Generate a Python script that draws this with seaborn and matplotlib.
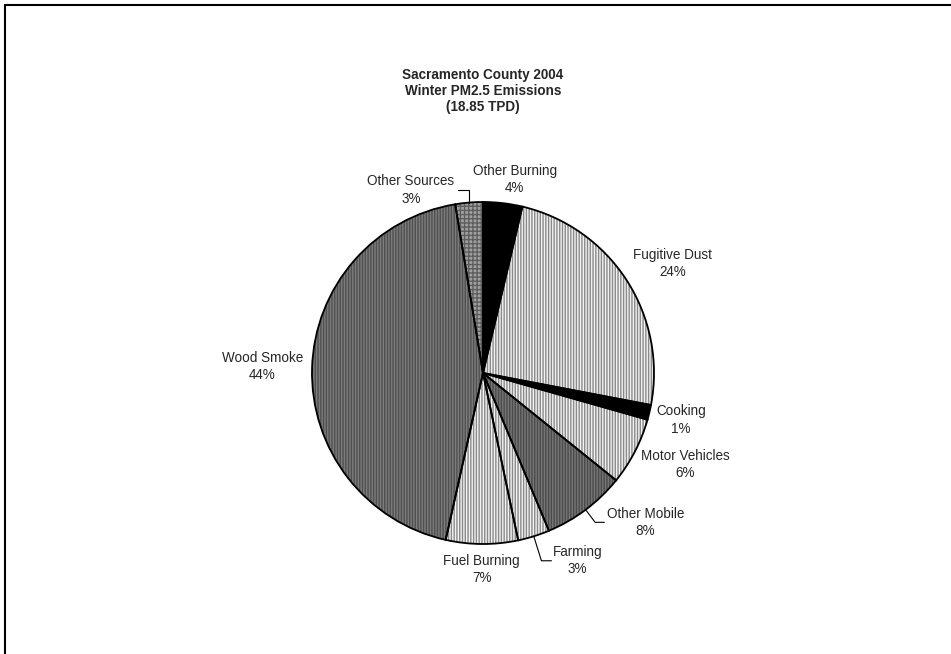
import numpy as np
import matplotlib
matplotlib.use('Agg')
import matplotlib.pyplot as plt
from matplotlib.lines import Line2D
import seaborn as sns

# Sacramento County 2004 winter PM2.5 emissions, share of total (%)
sources = ['Other Burning', 'Fugitive Dust', 'Cooking', 'Motor Vehicles', 'Other Mobile',
           'Farming', 'Fuel Burning', 'Wood Smoke', 'Other Sources']
shares = [3.7, 24.3, 1.4, 6.4, 7.9, 3.0, 6.8, 43.9, 2.6]
title = 'Sacramento County 2004\nWinter PM2.5 Emissions\n(18.85 TPD)'

# look of each wedge: fill, hatch, hatch colour
fills = ['black', '#f2f2f2', 'black', '#f2f2f2', '#767676', '#f2f2f2', '#f2f2f2', '#7c7c7c', '#a0a0a0']
hatches = ['', '||||||', '', '||||||', '||||||', '||||||', '||||||', '||||||', '++++']
hatch_cols = ['black', '#8a8a8a', 'black', '#8a8a8a', '#4a4a4a', '#8a8a8a', '#8a8a8a', '#505050', '#5e5e5e']

# label placement: distance (in radii) and angular nudge (deg) from the wedge middle
label_dist = [1.145, 1.28, 1.19, 1.30, 1.29, 1.23, 1.15, 1.29, 1.15]
label_nudge = [2.7, 3, 0, -3, -10.5, -9.5, 0, 0, -16.8]
leader = ['Other Mobile', 'Farming', 'Other Sources']

sns.set_theme(style='white')
plt.rcParams['font.family'] = ['Liberation Sans', 'DejaVu Sans']
plt.rcParams['hatch.linewidth'] = 1.0

W, H = 951, 654
fig = plt.figure(figsize=(W / 100, H / 100), dpi=100)
ax = fig.add_axes([0, 0, 1, 1])

cx, cy, R = 483, 281, 171
fs = 9.75

# pass 1: fills + hatching (hatch colour follows edgecolor)
wedges, _ = ax.pie(shares, colors=fills, startangle=90, counterclock=False,
                   center=(cx, cy), radius=R, wedgeprops=dict(linewidth=0))
for w, h, hc in zip(wedges, hatches, hatch_cols):
    w.set_hatch(h)
    w.set_edgecolor(hc)
    w.set_linewidth(0)

# pass 2: black outlines
ax.pie(shares, colors=['none'] * len(shares), startangle=90, counterclock=False,
       center=(cx, cy), radius=R, wedgeprops=dict(linewidth=1.3, edgecolor='black'))

cum = np.cumsum([0] + shares)
total = cum[-1]
for i, name in enumerate(sources):
    mid = (cum[i] + cum[i + 1]) / 2 / total * 360
    ang = np.deg2rad(mid + label_nudge[i])
    lx = cx + R * label_dist[i] * np.sin(ang)
    ly = cy + R * label_dist[i] * np.cos(ang)
    txt = f'{name}\n{round(shares[i])}%'
    if name in leader:
        m = np.deg2rad(mid)
        ex, ey = cx + R * np.sin(m), cy + R * np.cos(m)
        if name == 'Other Sources':
            conn, rel = 'angle,angleA=0,angleB=90,rad=0', (1.045, 0.5)
        else:
            conn, rel = f'angle,angleA=180,angleB={90 - mid},rad=0', (-0.03, 0.5)
        ax.annotate(txt, xy=(ex, ey), xytext=(lx, ly), ha='center', va='center',
                    fontsize=fs, linespacing=1.3,
                    arrowprops=dict(arrowstyle='-', color='black', lw=0.8,
                                    connectionstyle=conn, relpos=rel,
                                    shrinkA=0, shrinkB=0, patchA=None))
    else:
        ax.text(lx, ly, txt, ha='center', va='center', fontsize=fs, linespacing=1.3)

ax.text(cx, 563, title, ha='center', va='center', fontsize=fs, fontweight='bold',
        linespacing=1.19)

ax.set_xlim(0, W)
ax.set_ylim(0, H)
ax.set_aspect('equal')
ax.axis('off')

# frame lines along the top and left edge
fig.add_artist(Line2D([4.5 / W, 1], [1 - 4.5 / H, 1 - 4.5 / H], color='black', lw=1.5,
                      transform=fig.transFigure))
fig.add_artist(Line2D([4.5 / W, 4.5 / W], [0, 1 - 4.5 / H], color='black', lw=1.5,
                      transform=fig.transFigure))

fig.savefig('out.png', dpi=100)
